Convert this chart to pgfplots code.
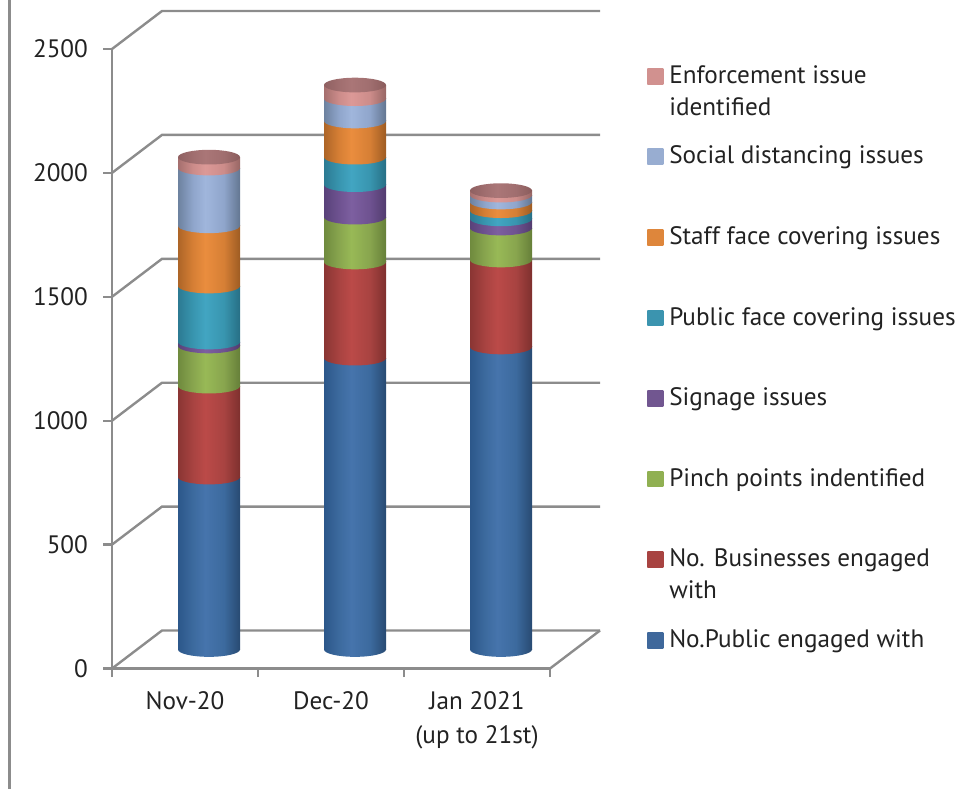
\documentclass[border=0pt]{standalone}
\usepackage{pgfplots}
\pgfplotsset{compat=1.18}
\usepackage{fontspec}
\setmainfont{PT Sans}
\definecolor{gridc}{HTML}{8C8C8C}
\definecolor{txt}{HTML}{222222}
\newcommand\cylshade[6]{%
  \pgfdeclarehorizontalshading{#1}{100bp}{%
    color(0bp)=(#2); color(25bp)=(#2); color(37bp)=(#3); color(47bp)=(#4); color(62bp)=(#5); color(75bp)=(#6); color(100bp)=(#6)}}
\definecolor{bluea}{HTML}{2C578A}\definecolor{blueb}{HTML}{3C6A9E}\definecolor{bluec}{HTML}{4674AC}\definecolor{blued}{HTML}{284A72}
\definecolor{reda}{HTML}{8A3533}\definecolor{redb}{HTML}{A84341}\definecolor{redc}{HTML}{BB4A48}\definecolor{redd}{HTML}{7E302E}
\definecolor{grea}{HTML}{6F8A3E}\definecolor{greb}{HTML}{88A54E}\definecolor{grec}{HTML}{98B956}\definecolor{gred}{HTML}{667F39}
\definecolor{pura}{HTML}{59427A}\definecolor{purb}{HTML}{6E5290}\definecolor{purc}{HTML}{7D5FA0}\definecolor{purd}{HTML}{523C6F}
\definecolor{teaa}{HTML}{2C7A92}\definecolor{teab}{HTML}{3895AF}\definecolor{teac}{HTML}{42A5C2}\definecolor{tead}{HTML}{276F85}
\definecolor{orga}{HTML}{AD6527}\definecolor{orgb}{HTML}{D67F35}\definecolor{orgc}{HTML}{EA8D3E}\definecolor{orgd}{HTML}{9E5C23}
\definecolor{lbla}{HTML}{6D829F}\definecolor{lblb}{HTML}{8FA5CB}\definecolor{lblc}{HTML}{A0B6DC}\definecolor{lbld}{HTML}{637691}
\definecolor{pnka}{HTML}{A56F6E}\definecolor{pnkb}{HTML}{CC8C8A}\definecolor{pnkc}{HTML}{DC9997}\definecolor{pnkd}{HTML}{976664}
\definecolor{capa}{HTML}{8F6061}\definecolor{capb}{HTML}{A06E6F}\definecolor{capc}{HTML}{AA7677}\definecolor{capd}{HTML}{8A5C5C}
\cylshade{cylblue}{bluea}{blueb}{bluec}{blueb}{blued}
\cylshade{cylred}{reda}{redb}{redc}{redb}{redd}
\cylshade{cylgreen}{grea}{greb}{grec}{greb}{gred}
\cylshade{cylpurple}{pura}{purb}{purc}{purb}{purd}
\cylshade{cylteal}{teaa}{teab}{teac}{teab}{tead}
\cylshade{cylorange}{orga}{orgb}{orgc}{orgb}{orgd}
\cylshade{cyllblue}{lbla}{lblb}{lblc}{lblb}{lbld}
\cylshade{cylpink}{pnka}{pnkb}{pnkc}{pnkb}{pnkd}
\cylshade{cylcap}{capa}{capb}{capc}{capb}{capd}
\newcommand\cylmark[1]{\pgfdeclareplotmark{m#1}{\path[shade,shading=cyl#1,yslant=0.1] (0,0) ellipse (23.25pt and 5.5pt);}}
\cylmark{blue}\cylmark{red}\cylmark{green}\cylmark{purple}\cylmark{teal}\cylmark{orange}\cylmark{lblue}\cylmark{pink}\cylmark{cap}
\pgfplotsset{
  seg/.style n args={3}{ybar stacked, draw=none, shade, shading=cyl#1, mark=m#2,
    legend image code/.code={\path[left color=#3,right color=#3] (0pt,-0.5pt) rectangle (12pt,11.3pt);}},
  cylextra/.style={},
}
\newcommand\lgdfont{\fontsize{18.9}{25}\selectfont\color{txt}}
\newcommand\lgd[2]{\lgdfont\rlap{#1}\rlap{\raisebox{-24pt}[0pt][0pt]{#2}}\hspace*{220pt}}
% one stacked cylinder: x, then the eight values from the bottom up
\newcommand\cylbar[9]{%
\begin{axis}[
  at={(102pt,-487.125pt)},anchor=south west,scale only axis,
  width=328.5pt,height=464.6pt,
  xmin=0,xmax=3,ymin=0,ymax=2500,
  axis lines=none,clip=false,
  bar width=46.5pt,
  cylextra,
]
\addplot[only marks,draw=none,mark=mblue,forget plot,stack plots=false] coordinates {(#1,0)};
\addplot[seg={blue}{red}{bluec!90!black}] coordinates {(#1,#2)};
\addplot[seg={red}{green}{redc!90!black}] coordinates {(#1,#3)};
\addplot[seg={green}{purple}{grec!95!black}] coordinates {(#1,#4)};
\addplot[seg={purple}{teal}{purc!90!black}] coordinates {(#1,#5)};
\addplot[seg={teal}{orange}{teac!90!black}] coordinates {(#1,#6)};
\addplot[seg={orange}{lblue}{orgc!95!black}] coordinates {(#1,#7)};
\addplot[seg={lblue}{pink}{lblc!95!black}] coordinates {(#1,#8)};
\addplot[seg={pink}{cap}{pnkc!95!black}] coordinates {(#1,#9)};
\end{axis}}
\begin{document}
\begin{tikzpicture}
\begin{scope}[x=0.75pt,y=-0.75pt]
\path (0,0) rectangle (973,789);
\begin{pgfinterruptboundingbox}
\draw[gridc,line width=2.2pt] (9.5,0) -- (9.5,789);
\end{pgfinterruptboundingbox}
\foreach \i in {0,1,2,3,4,5}{
  \pgfmathsetmacro\yy{668.5-123.9*\i}
  \draw[gridc,line width=1.8pt,line join=miter] (112,\yy) -- (162,\yy-38) -- (600,\yy-38);
}
\draw[gridc,line width=1.8pt] (550,668.5) -- (600,630.5);
\end{scope}
\begin{axis}[
  at={(84pt,-501.375pt)},anchor=south west,scale only axis,
  width=328.5pt,height=464.6pt,
  xmin=0,xmax=3,ymin=0,ymax=2500,
  axis x line*=bottom,axis y line*=left,
  axis line style={gridc,line width=1.8pt,-},
  tick style={gridc,line width=1.8pt},
  tick align=outside,major tick length=6.5pt,
  xtick={0,1,2,3},xticklabels={,,,},
  extra x ticks={0.5,1.5,2.5},
  extra x tick labels={Nov-20,Dec-20,{Jan 2021\\(up to 21st)}},
  extra x tick style={major tick length=0pt,tick style={draw=none}},
  ytick={0,500,1000,1500,2000,2500},
  /pgf/number format/assume math mode=true,
  /pgf/number format/1000 sep={},
  tick label style={font=\fontsize{18.9}{25}\selectfont,text=txt},
  xticklabel style={align=center,anchor=north,yshift=-14pt},
  yticklabel style={xshift=-8pt},
]
\end{axis}
\pgfplotsset{cylextra/.style={
  reverse legend,
  legend cell align=left,
  legend style={at={(1.1667,0.9475)},anchor=north west,draw=none,fill=none,
    row sep=41.5pt,column sep=2.5pt,inner sep=0pt,
    cells={anchor=base west}},
  legend entries={
    {\lgd{No.Public engaged with}{}},
    {\lgd{No. Businesses engaged}{with}},
    {\lgd{Pinch points indentified}{}},
    {\lgd{Signage issues}{}},
    {\lgd{Public face covering issues}{}},
    {\lgd{Staff face covering issues}{}},
    {\lgd{Social distancing issues}{}},
    {\lgd{Enforcement issue}{identified}}},
}}
\cylbar{0.5}{696}{367}{162}{16}{226}{243}{233}{44}
\pgfplotsset{cylextra/.style={}}
\cylbar{1.5}{1176}{388}{181}{131}{111}{146}{90}{55}
\cylbar{2.5}{1221}{351}{129}{37}{33}{35}{28}{18}
\end{tikzpicture}
\end{document}
